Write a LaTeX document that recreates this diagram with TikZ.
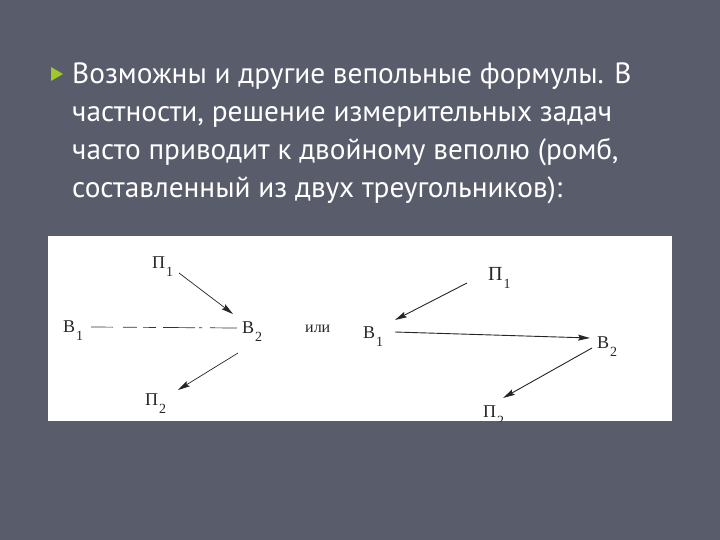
\documentclass[tikz,border=0pt]{standalone}
\usepackage{fontspec}
\setmainfont{Liberation Serif}
\newfontfamily\slidefont{PT Sans}
\usetikzlibrary{arrows.meta,calc}
\definecolor{slidebg}{RGB}{88,92,107}
\definecolor{bulletgreen}{RGB}{160,200,40}
\tikzset{
  slidetext/.style={anchor=base west, inner sep=0pt, text=white, font=\slidefont\fontsize{29.3}{29.3}\selectfont},
  lbl/.style={anchor=base west, inner sep=0pt, font=\fontsize{18}{18}\selectfont, text=black!85},
  arr/.style={draw=black!85, line width=0.7pt, -{Stealth[length=12pt,width=6pt,inset=2pt]}},
}
\newcommand{\lsub}[2]{#1\hspace{1pt}\raisebox{-8pt}{\fontsize{14}{14}\selectfont #2}}
\begin{document}
\begin{tikzpicture}[x=1pt,y=-1pt]
\fill[slidebg] (0,0) rectangle (720,540);
\useasboundingbox (0,0) rectangle (720,540);
% bullet
\fill[bulletgreen] (51,67) -- (63,74) -- (51,81) -- cycle;
\node[slidetext] (t1) at (72,84) {Возможны и другие вепольные формулы. В};
\node[slidetext] (t2) at (72,122) {частности, решение измерительных задач};
\node[slidetext] (t3) at (72,160) {часто приводит к двойному веполю (ромб,};
\node[slidetext] (t4) at (72,198) {составленный из двух треугольников):};
% white panel
\fill[white] (48,236) rectangle (672,421);
\begin{scope}
\clip (48,236) rectangle (672,421);
% left diagram
\node[lbl] (lp1) at (152,268) {\lsub{П}{1}};
\node[lbl] (lb1) at (63,332) {\lsub{В}{1}};
\node[lbl] (lb2) at (242,333) {\lsub{В}{2}};
\node[lbl] (lp2) at (145,405) {\lsub{П}{2}};
\node[lbl, font=\fontsize{16}{16}\selectfont] (or) at (305,332) {или};
\draw[arr] ($(lp1.base west)+(27,5)$) -- ($(lb2.base west)+(-9,-19)$);
\draw[draw=black!80, line width=0.7pt, dash pattern=on 22pt off 10pt on 14pt off 6pt on 13pt off 7pt on 32pt off 4pt on 3pt off 8pt on 27pt]
  ($(lb1.base west)+(28,-5)$) -- ($(lb2.base west)+(-5,-5)$);
\draw[arr] ($(lb2.base west)+(-4,20)$) -- ($(lp2.base west)+(33,-15)$);
% right diagram
\node[lbl, font=\fontsize{20}{20}\selectfont] (rp1) at (488,280) {\lsub{П}{1}};
\node[lbl] (rb1) at (363,338) {\lsub{В}{1}};
\node[lbl] (rb2) at (597,348) {\lsub{В}{2}};
\node[lbl] (rp2) at (483,417) {\lsub{П}{2}};
\draw[arr, line width=0.9pt] ($(rp1.base west)+(-21,3)$) -- ($(rb1.base west)+(32,-18)$);
\draw[arr, line width=0.9pt] ($(rb1.base west)+(32,-6)$) -- ($(rb2.base west)+(-7,-10)$);
\draw[arr, line width=0.9pt] ($(rb2.base west)+(-5,0)$) -- ($(rp2.base west)+(20,-19)$);
\end{scope}
\end{tikzpicture}
\end{document}
